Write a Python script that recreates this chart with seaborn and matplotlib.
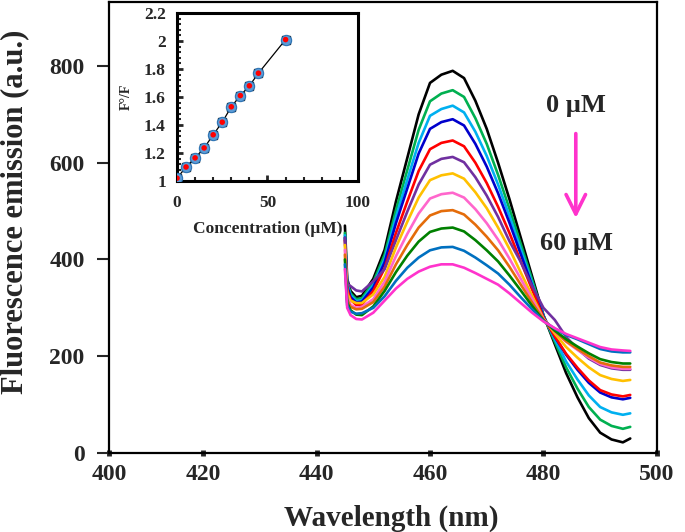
import numpy as np
import pandas as pd
import matplotlib
matplotlib.use("Agg")
import matplotlib.pyplot as plt
import seaborn as sns

# emission spectra, one list per titration step (0 uM on top -> 60 uM at bottom)
wavelength = [445.0, 445.4, 446, 447, 448, 450, 452, 454, 456, 458, 460, 462, 464, 466,
              468, 470, 472, 474, 476, 478, 480, 482, 484, 486, 488, 490, 492, 494, 495.3]

em_black = [470, 360, 335, 322, 325, 360, 420, 520, 610, 700, 765, 782, 790, 775,
            728, 670, 600, 525, 445, 365, 285, 225, 165, 115, 72, 42, 28, 22, 30]
em_green = [455, 354, 330, 318, 320, 353, 410, 502, 585, 668, 727, 743, 750, 736,
            692, 639, 575, 505, 432, 358, 284, 230, 177, 133, 95, 69, 56, 50, 54]
em_lightblue = [450, 349, 326, 314, 316, 347, 401, 488, 565, 641, 697, 711, 718, 704,
                664, 614, 555, 490, 421, 351, 283, 235, 189, 152, 119, 95, 84, 79, 82]
em_blue = [445, 345, 322, 311, 313, 342, 394, 475, 547, 619, 670, 684, 690, 677,
           639, 592, 537, 476, 411, 346, 282, 240, 203, 172, 145, 125, 115, 111, 114]
em_red = [440, 338, 317, 306, 307, 335, 382, 455, 520, 583, 628, 641, 646, 634,
          600, 558, 509, 455, 396, 338, 280, 241, 205, 176, 150, 130, 121, 117, 120]
em_purple = [445, 350, 345, 336, 334, 355, 380, 440, 499, 555, 596, 608, 612, 601,
             570, 532, 488, 438, 395, 345, 300, 275, 240, 215, 195, 182, 175, 172, 172]
em_gold = [430, 330, 315, 310, 310, 328, 364, 425, 478, 528, 564, 574, 578, 567,
           539, 506, 466, 422, 373, 325, 278, 247, 219, 197, 177, 161, 153, 149, 151]
em_pink = [420, 322, 306, 300, 302, 318, 354, 407, 453, 495, 526, 535, 538, 528,
           504, 475, 441, 402, 360, 318, 277, 251, 230, 213, 197, 184, 177, 174, 174]
em_orange = [410, 317, 302, 297, 298, 312, 344, 390, 430, 466, 491, 500, 502, 493,
             472, 447, 419, 385, 348, 311, 276, 252, 231, 215, 200, 187, 181, 178, 178]
em_darkgreen = [400, 311, 295, 286, 285, 303, 335, 374, 408, 437, 457, 464, 466, 458,
                440, 419, 396, 367, 336, 304, 274, 253, 235, 220, 206, 194, 188, 185, 185]
em_steelblue = [390, 305, 292, 288, 289, 300, 324, 356, 383, 404, 419, 425, 426, 418,
                404, 388, 371, 348, 322, 297, 273, 257, 244, 235, 225, 215, 210, 208, 208]
em_magenta = [380, 300, 285, 277, 276, 290, 315, 340, 360, 375, 385, 390, 390, 383,
              372, 360, 348, 330, 310, 290, 272, 258, 246, 237, 228, 219, 214, 212, 211]

curve_names = ["black", "green", "lightblue", "blue", "red", "purple", "gold",
               "pink", "orange", "darkgreen", "steelblue", "magenta"]
curve_colors = ["#000000", "#00b050", "#00b0f0", "#0000cc", "#ff0000", "#7030a0",
                "#ffc000", "#ff66cc", "#e46c0a", "#008000", "#0070c0", "#ff33cc"]
spectra = [em_black, em_green, em_lightblue, em_blue, em_red, em_purple, em_gold,
           em_pink, em_orange, em_darkgreen, em_steelblue, em_magenta]

# Stern-Volmer inset
conc = [0, 5, 10, 15, 20, 25, 30, 35, 40, 45, 60]
f0_f = [1.02, 1.10, 1.165, 1.236, 1.33, 1.42, 1.53, 1.61, 1.68, 1.77, 2.01]
f0_f_err = [0.02, 0.03, 0.02, 0.03, 0.02, 0.02, 0.03, 0.02, 0.02, 0.02, 0.02]

x_ticks = [403.4, 420, 440, 460, 480, 500]
x_ticklabels = ["400", "420", "440", "460", "480", "500"]
y_ticks = [0, 200, 400, 600, 800]

sns.set_style("ticks")
plt.rcParams["font.family"] = ["Liberation Serif", "DejaVu Serif"]
plt.rcParams["font.weight"] = "bold"
plt.rcParams["axes.labelweight"] = "bold"

df = pd.concat(
    [pd.DataFrame({"wavelength": wavelength, "emission": vals, "curve": name})
     for name, vals in zip(curve_names, spectra)],
    ignore_index=True,
)
df_sv = pd.DataFrame({"conc": conc, "f0_f": f0_f})

fig = plt.figure(figsize=(6.85, 5.32), dpi=100)
ax = fig.add_axes([0.159, 0.1485, 0.8, 0.8475])

sns.lineplot(data=df, x="wavelength", y="emission", hue="curve",
             hue_order=curve_names, palette=curve_colors, estimator=None,
             sort=False, linewidth=1.9, legend=False, ax=ax)

ax.set_xlim(403.4, 500)
ax.set_ylim(0, 932)
ax.set_xticks(x_ticks)
ax.set_xticklabels(x_ticklabels)
ax.set_yticks(y_ticks)
for s in ax.spines.values():
    s.set_linewidth(1.6)
    s.set_color("black")
ax.tick_params(axis="y", direction="out", length=8.5, width=1.5, pad=9, labelsize=17)
ax.tick_params(axis="x", direction="inout", length=4, width=3.5, pad=6, labelsize=17)
ax.set_xlabel("Wavelength (nm)", fontsize=21, fontweight="bold")
ax.set_ylabel("Fluorescence emission (a.u.)", fontsize=22, fontweight="bold")
ax.xaxis.set_label_coords(0.516, -0.114)
ax.yaxis.set_label_coords(-0.146, 0.534)

ax.text(485.8, 719, "0 µM", fontsize=19, fontweight="bold", ha="center", va="center")
ax.text(485.8, 434, "60 µM", fontsize=19, fontweight="bold", ha="center", va="center")
ax.annotate("", xy=(485.7, 480), xytext=(485.7, 666),
            arrowprops=dict(arrowstyle="->,head_length=0.7,head_width=0.35",
                            color="#ff33cc", lw=2.6, mutation_scale=20))

# inset
axi = fig.add_axes([0.2584, 0.6598, 0.2642, 0.3158])
axi.errorbar(conc, f0_f, yerr=f0_f_err, fmt="s", color="black", markersize=6,
             elinewidth=2.2, capsize=2, zorder=2)
sns.lineplot(data=df_sv, x="conc", y="f0_f", color="black", linewidth=0.9,
             ax=axi, zorder=3)
sns.scatterplot(data=df_sv, x="conc", y="f0_f", color="#5b9bd5", edgecolor="#2e75b6",
                s=55, linewidth=0.8, ax=axi, zorder=4)
sns.scatterplot(data=df_sv, x="conc", y="f0_f", color="#ff0000", edgecolor="none",
                s=16, ax=axi, zorder=5)
axi.set_xlim(0, 100)
axi.set_ylim(1, 2.2)
axi.set_xticks([0, 50, 100])
axi.set_yticks([1, 1.2, 1.4, 1.6, 1.8, 2, 2.2])
axi.set_yticklabels(["1", "1.2", "1.4", "1.6", "1.8", "2", "2.2"])
axi.set_xticks(np.arange(0, 101, 10), minor=True)
axi.set_yticks(np.arange(1, 2.21, 0.04), minor=True)
axi.tick_params(axis="y", which="major", direction="in", length=4, width=2,
                labelsize=12.5, pad=8)
axi.tick_params(axis="x", which="major", direction="in", length=4, width=2,
                labelsize=12.5, pad=10)
axi.tick_params(axis="both", which="minor", direction="in", length=3, width=1.5)
for s in axi.spines.values():
    s.set_linewidth(2.2)
    s.set_color("black")
axi.set_xlabel("Concentration (µM)", fontsize=12.5, fontweight="bold", labelpad=7)
axi.set_ylabel("F°/F", fontsize=10, fontweight="bold", labelpad=8)

fig.savefig("out.png", dpi=100)
